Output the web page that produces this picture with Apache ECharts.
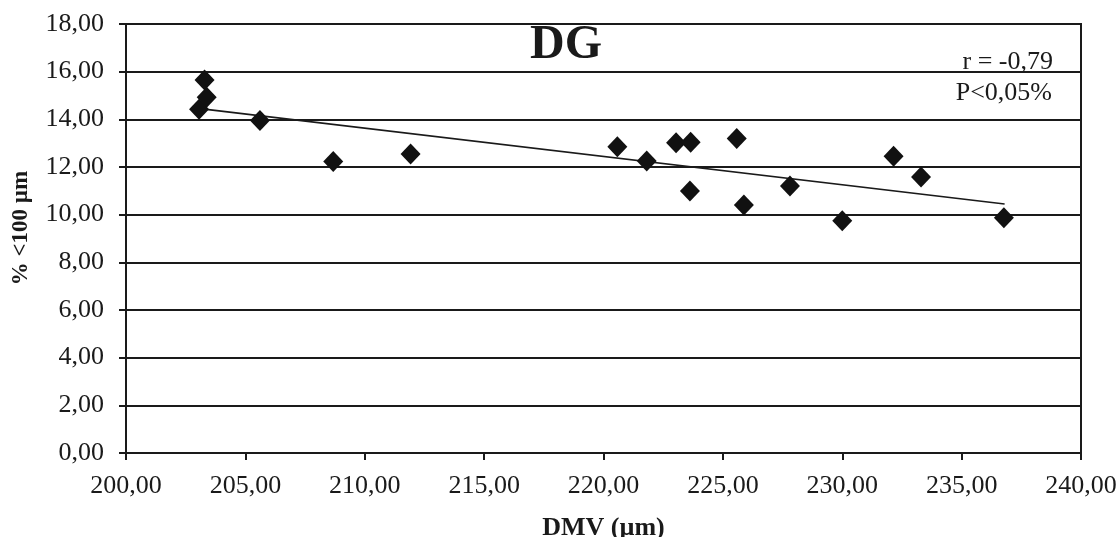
<!DOCTYPE html>
<html>
<head>
<meta charset="utf-8">
<script src="https://cdn.jsdelivr.net/npm/echarts@6/dist/echarts.min.js"></script>
<style>
html,body{margin:0;padding:0;background:#fff;}
#chart{width:1119px;height:537px;}
</style>
</head>
<body>
<div id="chart"></div>
<script>
// Data
const dmv = [203.06, 203.29, 203.38, 205.61, 208.68, 211.92, 220.58, 221.81, 223.04, 223.65, 223.62, 225.58, 225.88, 227.81, 230.0, 232.15, 233.30, 236.77];
const pct = [14.42, 15.65, 14.93, 13.95, 12.23, 12.55, 12.85, 12.25, 13.02, 13.04, 10.99, 13.20, 10.41, 11.20, 9.74, 12.45, 11.58, 9.87];
const trendX = [203.1, 236.8];
const trendY = [14.45, 10.45];
const chartTitle = 'DG';
const xName = 'DMV (µm)';
const yName = '% <100 µm';
const statLines = ['r = -0,79', 'P<0,05%'];

const FONT = "'Liberation Serif', 'Times New Roman', serif";
const INK = '#1a1a1a';
const fmt = v => v.toFixed(2).replace('.', ',');

const chart = echarts.init(document.getElementById('chart'), null, {renderer: 'canvas'});
chart.setOption({
  animation: false,
  backgroundColor: '#fff',
  grid: {left: 126, right: 38, top: 24, bottom: 84, containLabel: false, outerBoundsMode: 'none',
         show: true, borderColor: INK, borderWidth: 2, backgroundColor: 'transparent'},
  xAxis: {
    type: 'value', min: 200, max: 240, interval: 5,
    name: xName, nameLocation: 'middle', nameGap: 62,
    nameTextStyle: {fontFamily: FONT, fontSize: 26, fontWeight: 'bold', color: INK},
    axisLine: {show: true, onZero: false, lineStyle: {color: INK, width: 2}},
    axisTick: {show: true, length: 7, lineStyle: {color: INK, width: 2}},
    axisLabel: {formatter: fmt, fontFamily: FONT, fontSize: 26, color: INK, margin: 20, hideOverlap: false},
    splitLine: {show: false}
  },
  yAxis: {
    type: 'value', min: 0, max: 18, interval: 2,
    axisLine: {show: true, onZero: false, lineStyle: {color: INK, width: 2}},
    axisTick: {show: true, length: 7, lineStyle: {color: INK, width: 2}},
    axisLabel: {formatter: fmt, fontFamily: FONT, fontSize: 26, color: INK, margin: 22},
    splitLine: {show: true, lineStyle: {color: INK, width: 2}}
  },
  graphic: [
    {type: 'text', x: 566, y: 46, style: {text: chartTitle, font: 'bold 48px ' + FONT, fill: INK, textAlign: 'center', textVerticalAlign: 'middle'}},
    {type: 'text', x: 1053, y: 62, style: {text: statLines[0], font: '26px ' + FONT, fill: INK, textAlign: 'right', textVerticalAlign: 'middle'}},
    {type: 'text', x: 1052, y: 93, style: {text: statLines[1], font: '26px ' + FONT, fill: INK, textAlign: 'right', textVerticalAlign: 'middle'}},
    {type: 'text', x: 21, y: 228, rotation: Math.PI / 2, style: {text: yName, font: 'bold 23px ' + FONT, fill: INK, textAlign: 'center', textVerticalAlign: 'middle'}}
  ],
  series: [
    {
      type: 'line',
      data: trendX.map((x, i) => [x, trendY[i]]),
      showSymbol: false, symbol: 'none',
      lineStyle: {color: INK, width: 1.6},
      z: 3
    },
    {
      type: 'scatter',
      data: dmv.map((x, i) => [x, pct[i]]),
      symbol: 'diamond', symbolSize: [20, 21],
      itemStyle: {color: '#111', opacity: 1},
      z: 4
    }
  ]
});
</script>
</body>
</html>
